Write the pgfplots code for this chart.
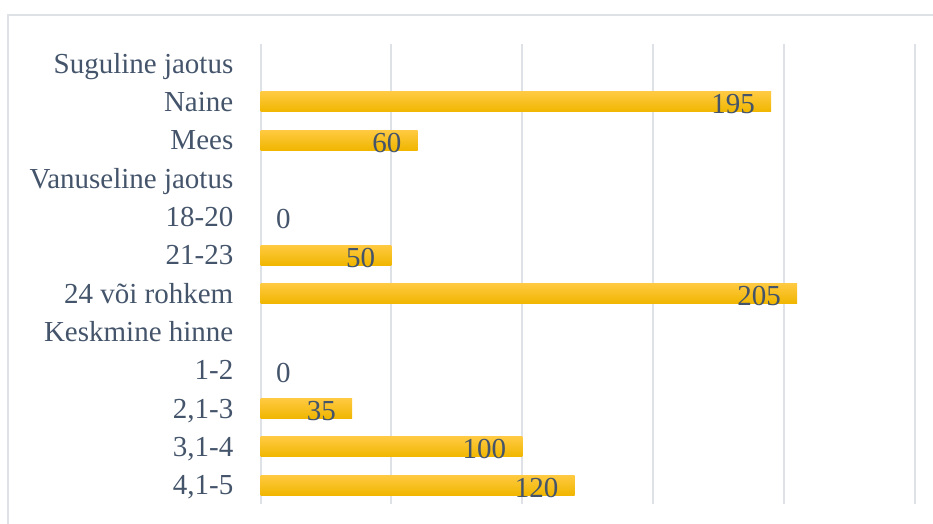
\documentclass[border=0pt]{standalone}
\usepackage{pgfplots}
\pgfplotsset{compat=1.18}
\usepackage{fontspec}
\setmainfont{Liberation Serif}

\definecolor{txt}{HTML}{44546A}
\definecolor{gridc}{HTML}{DEE2E7}
\definecolor{bartop}{RGB}{255,202,66}
\definecolor{barbot}{RGB}{240,182,0}

% rows: 1 = top category
\pgfplotstableread{
val row
195 2
60  3
50  6
205 7
35  10
100 11
120 12
}\bars
\pgfplotstableread{
val row
0 5
0 9
}\zeros

\begin{document}
\begin{tikzpicture}
\draw[gridc, line width=2pt] (8pt,-5pt) -- (8pt,508pt) -- (940pt,508pt);

\begin{axis}[%
at={(260.5pt,18.8pt)},
anchor=south west,
width=654.5pt,
height=460pt,
scale only axis,
xmin=0, xmax=250,
ymin=0.5, ymax=12.5,
y dir=reverse,
xtick={0,50,...,250},
xticklabels={},
xmajorgrids,
grid style={gridc, line width=2pt},
major tick length=0pt,
axis line style={draw=none},
ytick={1,...,12},
yticklabels={{Suguline jaotus},{Naine},{Mees},{Vanuseline jaotus},{18-20},{21-23},{24 või rohkem},{Keskmine hinne},{1-2},{2,1-3},{3,1-4},{4,1-5}},
y tick label style={anchor=base east, inner sep=0pt, xshift=-27pt, yshift=-9.7pt,
  font=\fontsize{29pt}{34pt}\selectfont, text=txt},
/pgf/number format/assume math mode=true,
point meta=x,
nodes near coords,
]

% one plot per bar so that each bar gets its own gradient
\pgfplotsinvokeforeach{0,...,6}{
\addplot[xbar, bar width=20pt, draw=none, top color=bartop, bottom color=barbot,
  restrict expr to domain={\coordindex}{#1:#1},
  nodes near coords style={anchor=base east, inner sep=0pt, xshift=-16pt, yshift=-12pt,
  font=\fontsize{29pt}{34pt}\selectfont, text=txt}]
  table[x=val, y=row] {\bars};
}

\addplot[xbar, bar width=20pt, draw=none, fill=none,
  nodes near coords style={anchor=base west, inner sep=0pt, xshift=15.5pt, yshift=-12pt,
  font=\fontsize{29pt}{34pt}\selectfont, text=txt}]
  table[x=val, y=row] {\zeros};

\end{axis}
\pgfresetboundingbox
\useasboundingbox (0pt,0pt) rectangle (933pt,523pt);
\end{tikzpicture}
\end{document}
